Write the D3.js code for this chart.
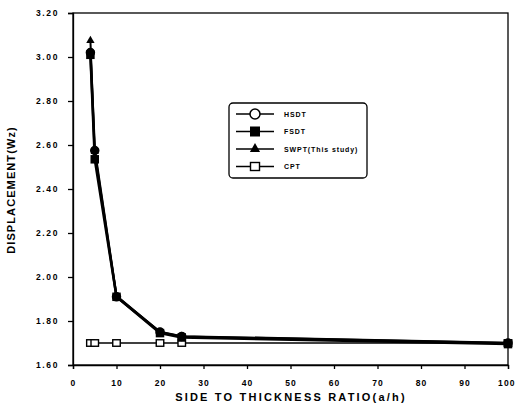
<!DOCTYPE html>
<html>
<head>
    <script src="https://cdn.jsdelivr.net/npm/d3@7"></script>
    <style>
        body { margin: 0; padding: 0; background: white; }
        svg text { font-family: "Liberation Sans", Arial, sans-serif; font-weight: bold; fill: black; }
        .tick-label { font-size: 8.5px; letter-spacing: 1.6px; }
        .x-tick { letter-spacing: 1.1px; }
        .axis-title { font-size: 11px; letter-spacing: 2.2px; }
        .legend-label { font-size: 7px; letter-spacing: 0.9px; }
    </style>
</head>
<body>
<div id="chart"></div>
<script>
    const ratios = [4, 5, 10, 20, 25, 100];
    const hsdt = [3.02, 2.575, 1.91, 1.75, 1.73, 1.70];
    const fsdt = [3.01, 2.535, 1.91, 1.745, 1.725, 1.695];
    const swpt = [3.075, 2.57, 1.915, 1.75, 1.73, 1.70];
    const cpt = [1.70, 1.70, 1.70, 1.70, 1.70, 1.70];
    const xTicks = [0, 10, 20, 30, 40, 50, 60, 70, 80, 90, 100];
    const yTicks = [1.60, 1.80, 2.00, 2.20, 2.40, 2.60, 2.80, 3.00, 3.20];
    const seriesNames = ["HSDT", "FSDT", "SWPT(This study)", "CPT"];

    const W = 517, H = 406;
    const x = d3.scaleLinear().domain([0, 100]).range([73, 508]);
    const y = d3.scaleLinear().domain([1.6, 3.2]).range([365, 13]);

    const svg = d3.select("#chart").append("svg")
        .attr("width", W).attr("height", H);

    // frame
    svg.append("rect")
        .attr("x", x(0)).attr("y", y(3.2))
        .attr("width", x(100) - x(0)).attr("height", y(1.6) - y(3.2))
        .attr("fill", "none").attr("stroke", "black").attr("stroke-width", 1.3);

    // axes
    const xAxis = svg.append("g")
        .attr("transform", `translate(0,${y(1.6)})`)
        .call(d3.axisBottom(x).tickValues(xTicks).tickSize(4).tickFormat(d3.format("d")));
    const yAxis = svg.append("g")
        .attr("transform", `translate(${x(0)},0)`)
        .call(d3.axisLeft(y).tickValues(yTicks).tickSize(5).tickFormat(d3.format(".2f")));
    [xAxis, yAxis].forEach(a => {
        a.select(".domain").attr("stroke-width", 1.3);
        a.selectAll(".tick line").attr("stroke-width", 1.3);
        a.selectAll("text").attr("class", "tick-label").attr("font-family", null).attr("font-size", null);
    });
    xAxis.selectAll("text").classed("x-tick", true).attr("dy", "1.6em");
    xAxis.selectAll("text").filter(d => d === 100).attr("dx", "-0.2em");
    yAxis.selectAll("text").attr("x", -14);

    // axis titles
    svg.append("text").attr("class", "axis-title")
        .attr("x", 291).attr("y", 401).attr("text-anchor", "middle")
        .text("SIDE TO THICKNESS RATIO(a/h)");
    svg.append("text").attr("class", "axis-title")
        .attr("transform", `translate(15,${190}) rotate(-90)`)
        .attr("text-anchor", "middle").style("letter-spacing", "1.1px").style("font-size", "11px")
        .text("DISPLACEMENT(Wz)");

    const line = d3.line().x((d, i) => x(ratios[i])).y(d => y(d));

    const series = [
        { name: seriesNames[0], vals: hsdt, width: 2.5, shape: "circle" },
        { name: seriesNames[1], vals: fsdt, width: 2.5, shape: "square" },
        { name: seriesNames[2], vals: swpt, width: 2, shape: "triangle" },
        { name: seriesNames[3], vals: cpt, width: 1.6, shape: "open-square" }
    ];

    function marker(g, shape, cx, cy, inLegend) {
        if (shape === "circle") {
            g.append("circle").attr("cx", cx).attr("cy", cy).attr("r", inLegend ? 5 : 4)
                .attr("fill", inLegend ? "white" : "black").attr("stroke", "black").attr("stroke-width", 1.5);
        } else if (shape === "square") {
            const s = inLegend ? 10 : 8.5;
            g.append("rect").attr("x", cx - s / 2).attr("y", cy - s / 2).attr("width", s).attr("height", s)
                .attr("fill", "black");
        } else if (shape === "triangle") {
            g.append("path").attr("d", d3.symbol(d3.symbolTriangle, inLegend ? 45 : 30)())
                .attr("transform", `translate(${cx},${cy})`).attr("fill", "black");
        } else {
            const w = inLegend ? 9 : 7.5, h = inLegend ? 8 : 6.5;
            g.append("rect").attr("x", cx - w / 2).attr("y", cy - h / 2).attr("width", w).attr("height", h)
                .attr("fill", "white").attr("stroke", "black").attr("stroke-width", 1.4);
        }
    }

    series.slice().reverse().forEach(s => {
        const g = svg.append("g");
        g.append("path").datum(s.vals).attr("d", line)
            .attr("fill", "none").attr("stroke", "black").attr("stroke-width", s.width);
        s.vals.forEach((v, i) => marker(g, s.shape, x(ratios[i]), y(v), false));
    });

    // legend
    const legend = svg.append("g");
    legend.append("rect").attr("x", 229).attr("y", 103).attr("width", 138).attr("height", 75)
        .attr("rx", 4).attr("fill", "white").attr("stroke", "black").attr("stroke-width", 1.3);
    series.forEach((s, i) => {
        const ly = 114 + i * 17.5;
        legend.append("line").attr("x1", 236).attr("x2", 274).attr("y1", ly).attr("y2", ly)
            .attr("stroke", "black").attr("stroke-width", 1.5);
        marker(legend, s.shape, 255, ly, true);
        legend.append("text").attr("class", "legend-label")
            .attr("x", 284).attr("y", ly + 2.5).text(s.name);
    });
</script>
</body>
</html>
